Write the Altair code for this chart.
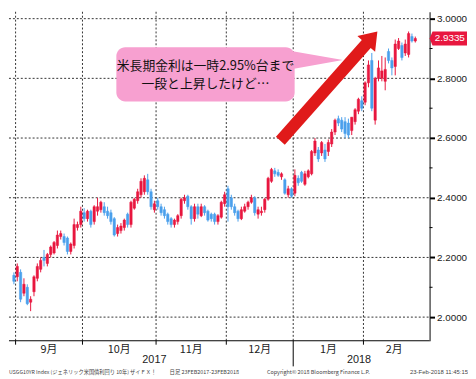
import altair as alt
import pandas as pd

# ---------------- data ----------------
lead_days = 1                      # one day of August before September
month_labels = ["9月", "10月", "11月", "12月", "1月", "2月"]
month_counts = [20, 22, 21, 20, 21, 16]
year_labels = ["2017", "2018"]
year_month_counts = [4, 2]

opens = [2.14,
    2.135, 2.15, 2.08, 2.10, 2.05, 2.085, 2.13, 2.16, 2.20, 2.18, 2.21, 2.215, 2.24, 2.27, 2.27, 2.265, 2.22, 2.24, 2.30, 2.31,
    2.35, 2.33, 2.355, 2.32, 2.355, 2.36, 2.37, 2.355, 2.35, 2.33, 2.28, 2.29, 2.30, 2.345, 2.31, 2.365, 2.39, 2.41, 2.42, 2.46, 2.42, 2.36,
    2.39, 2.37, 2.36, 2.345, 2.33, 2.31, 2.32, 2.34, 2.39, 2.405, 2.37, 2.33, 2.37, 2.34, 2.37, 2.355, 2.345, 2.345, 2.32, 2.335, 2.38,
    2.43, 2.40, 2.37, 2.355, 2.33, 2.355, 2.37, 2.385, 2.40, 2.345, 2.35, 2.36, 2.395, 2.455, 2.49, 2.485, 2.47, 2.46, 2.41, 2.43,
    2.415, 2.465, 2.485, 2.445, 2.47, 2.48, 2.55, 2.56, 2.55, 2.56, 2.555, 2.58, 2.62, 2.665, 2.66, 2.655, 2.65, 2.625, 2.655, 2.69, 2.725,
    2.72, 2.785, 2.86, 2.66, 2.80, 2.80, 2.79, 2.89, 2.86, 2.84, 2.90, 2.91, 2.885, 2.88, 2.94, 2.925]
highs = [2.15,
    2.18, 2.16, 2.13, 2.11, 2.07, 2.14, 2.18, 2.20, 2.225, 2.215, 2.24, 2.255, 2.29, 2.29, 2.28, 2.27, 2.25, 2.33, 2.32, 2.37,
    2.365, 2.36, 2.36, 2.375, 2.40, 2.39, 2.385, 2.37, 2.36, 2.335, 2.31, 2.315, 2.33, 2.35, 2.39, 2.40, 2.43, 2.465, 2.475, 2.48, 2.43, 2.39,
    2.40, 2.38, 2.37, 2.35, 2.335, 2.33, 2.345, 2.40, 2.41, 2.41, 2.375, 2.38, 2.38, 2.38, 2.375, 2.36, 2.35, 2.35, 2.345, 2.39, 2.42,
    2.44, 2.41, 2.38, 2.36, 2.37, 2.38, 2.39, 2.41, 2.405, 2.37, 2.37, 2.40, 2.47, 2.50, 2.50, 2.495, 2.485, 2.465, 2.44, 2.435,
    2.495, 2.475, 2.49, 2.49, 2.495, 2.56, 2.60, 2.57, 2.59, 2.58, 2.595, 2.63, 2.665, 2.675, 2.67, 2.67, 2.665, 2.67, 2.70, 2.735, 2.74,
    2.79, 2.86, 2.885, 2.805, 2.86, 2.875, 2.87, 2.90, 2.87, 2.93, 2.935, 2.92, 2.93, 2.957, 2.95, 2.94]
lows = [2.11,
    2.12, 2.05, 2.07, 2.04, 2.02, 2.07, 2.12, 2.15, 2.17, 2.17, 2.20, 2.21, 2.23, 2.26, 2.24, 2.21, 2.21, 2.23, 2.29, 2.30,
    2.32, 2.32, 2.30, 2.31, 2.34, 2.35, 2.34, 2.33, 2.31, 2.27, 2.27, 2.28, 2.29, 2.30, 2.30, 2.36, 2.38, 2.40, 2.41, 2.41, 2.36, 2.35,
    2.36, 2.34, 2.33, 2.31, 2.30, 2.30, 2.31, 2.33, 2.38, 2.36, 2.31, 2.32, 2.33, 2.335, 2.34, 2.32, 2.32, 2.31, 2.31, 2.33, 2.37,
    2.32, 2.36, 2.34, 2.32, 2.325, 2.35, 2.36, 2.38, 2.34, 2.33, 2.34, 2.35, 2.39, 2.45, 2.47, 2.47, 2.46, 2.41, 2.40, 2.40,
    2.405, 2.44, 2.45, 2.44, 2.465, 2.475, 2.54, 2.52, 2.54, 2.52, 2.54, 2.57, 2.61, 2.64, 2.62, 2.60, 2.60, 2.61, 2.645, 2.68, 2.69,
    2.71, 2.77, 2.69, 2.645, 2.79, 2.79, 2.76, 2.85, 2.81, 2.81, 2.895, 2.86, 2.875, 2.87, 2.92, 2.92]
closes = [2.12,
    2.17, 2.06, 2.11, 2.045, 2.06, 2.135, 2.17, 2.19, 2.19, 2.21, 2.235, 2.25, 2.275, 2.28, 2.25, 2.22, 2.245, 2.31, 2.31, 2.355,
    2.33, 2.355, 2.31, 2.37, 2.37, 2.385, 2.35, 2.34, 2.32, 2.275, 2.30, 2.305, 2.325, 2.31, 2.385, 2.395, 2.42, 2.455, 2.465, 2.42, 2.37, 2.38,
    2.37, 2.35, 2.34, 2.32, 2.31, 2.325, 2.34, 2.395, 2.40, 2.37, 2.33, 2.37, 2.345, 2.37, 2.35, 2.325, 2.33, 2.32, 2.34, 2.385, 2.41,
    2.37, 2.37, 2.35, 2.33, 2.36, 2.37, 2.385, 2.40, 2.35, 2.36, 2.355, 2.395, 2.465, 2.495, 2.48, 2.475, 2.48, 2.415, 2.43, 2.405,
    2.475, 2.45, 2.455, 2.48, 2.49, 2.555, 2.59, 2.53, 2.585, 2.53, 2.585, 2.62, 2.66, 2.65, 2.63, 2.615, 2.61, 2.67, 2.695, 2.73, 2.70,
    2.785, 2.845, 2.70, 2.80, 2.835, 2.825, 2.83, 2.86, 2.835, 2.915, 2.925, 2.87, 2.915, 2.95, 2.925, 2.9335]

y_major = [2.0, 2.2, 2.4, 2.6, 2.8, 3.0]
y_minor = [2.1, 2.3, 2.5, 2.7, 2.9]
last_value = 2.9335
note_lines = ["米長期金利は一時2.95%台まで", "一段と上昇したけど…"]
footer_left = "USGG10YR Index (ジェネリック米国債利回り 10年) ザイＦＸ！"
footer_range = "日足 23FEB2017-23FEB2018"
footer_copy = "Copyright© 2018 Bloomberg Finance L.P."
footer_time = "23-Feb-2018 11:45:15"

n = len(closes)
assert len(opens) == n and len(highs) == n and len(lows) == n
assert n == lead_days + sum(month_counts)

# ---------------- layout ----------------
W, H = 427, 334
X_END = 122.8
RED = "#e8173f"
BLUE = "#4aa0ec"
PINK = "#f7a0d0"
ARROW = "#e01a1a"

x_scale = alt.Scale(domain=[0, X_END], nice=False, zero=False)
y_scale = alt.Scale(domain=[1.92079, 3.0231], nice=False, zero=False)
y_axis = alt.Axis(orient="right", values=y_major, format=".4f", title=None,
                  grid=False, domainColor="black", domainWidth=1, tickColor="black",
                  tickSize=5, tickWidth=2, labelFont="Liberation Sans",
                  labelFontSize=10, labelColor="#222", labelPadding=2)

df = pd.DataFrame({"idx": list(range(n)), "open": opens, "high": highs,
                   "low": lows, "close": closes})
df["dir"] = ["up" if c >= o else "down" for o, c in zip(opens, closes)]

bounds = [lead_days - 0.5]
for c in month_counts:
    bounds.append(bounds[-1] + c)
month_edges = bounds[:-1]
month_right = bounds[1:-1] + [X_END]
mdf = pd.DataFrame({"label": month_labels,
                    "c": [(a + b) / 2 for a, b in zip(month_edges, month_right)]})
bdf = pd.DataFrame({"b": month_edges})
year_edge = month_edges[year_month_counts[0]]
ydf = pd.DataFrame({"label": year_labels,
                    "c": [(month_edges[0] + year_edge) / 2, (year_edge + X_END) / 2]})
short_df = pd.DataFrame({"b": [b for b in month_edges if b != year_edge]})
long_df = pd.DataFrame({"b": [year_edge]})

color = alt.Color("dir:N", scale=alt.Scale(domain=["up", "down"], range=[RED, BLUE]), legend=None)
X = lambda f: alt.X(f, scale=x_scale, axis=None)
Y = lambda f: alt.Y(f, scale=y_scale, axis=y_axis)

# dotted grid lines drawn as rules
vgrid = alt.Chart(bdf).mark_rule(color="#333333", strokeDash=[2, 2], strokeWidth=1).encode(
    x=X("b:Q"), y=alt.value(0), y2=alt.value(H))
hgrid = alt.Chart(pd.DataFrame({"g": y_major})).mark_rule(
    color="#333333", strokeDash=[2, 2], strokeWidth=1).encode(
    y=Y("g:Q"), x=alt.value(0), x2=alt.value(W))

wick = alt.Chart(df).mark_rule(strokeWidth=1, clip=True).encode(
    x=X("idx:Q"), y=Y("low:Q"), y2="high:Q", color=color)
body = alt.Chart(df).mark_bar(size=2.4, strokeWidth=0.5, clip=True).encode(
    x=X("idx:Q"), y=Y("open:Q"), y2="close:Q", color=color,
    stroke=alt.Stroke("dir:N", scale=alt.Scale(domain=["up", "down"], range=[RED, BLUE]), legend=None))

one = pd.DataFrame({"k": [0]})
xline = alt.Chart(one).mark_rule(color="black", strokeWidth=1).encode(
    x=alt.value(0), x2=alt.value(W), y=alt.value(H))
sticks = alt.Chart(short_df).mark_rule(color="black", strokeWidth=1).encode(
    x=X("b:Q"), y=alt.value(H), y2=alt.value(H + 4))
lticks = alt.Chart(long_df).mark_rule(color="black", strokeWidth=1).encode(
    x=X("b:Q"), y=alt.value(H), y2=alt.value(H + 26))
mlabels = alt.Chart(mdf).mark_text(font="Noto Sans CJK JP", fontSize=11, color="#222",
                                   baseline="middle").encode(
    x=X("c:Q"), y=alt.value(H + 9), text="label:N")
ylabels = alt.Chart(ydf).mark_text(font="Liberation Sans", fontSize=11, color="#222",
                                   baseline="middle").encode(
    x=X("c:Q"), y=alt.value(H + 20), text="label:N")

footer_texts = [footer_left, footer_range, footer_copy]
fx = [0, 163, 262]
fsize = [5.3, 5.5, 5.5]
footer = alt.layer(*[
    alt.Chart(pd.DataFrame({"t": [t]})).mark_text(font="Noto Sans CJK JP", fontSize=s, color="#444",
                                                  align="left", baseline="middle").encode(
        x=alt.value(x), y=alt.value(H + 32), text="t:N")
    for t, x, s in zip(footer_texts, fx, fsize)
])
footer_r = alt.Chart(pd.DataFrame({"t": [footer_time]})).mark_text(
    font="Liberation Sans", fontSize=6, color="#444", align="right", baseline="middle").encode(
    x=alt.value(466), y=alt.value(H + 32), text="t:N")

box = alt.Chart(one).mark_rect(color=PINK, cornerRadius=9).encode(
    x=alt.value(109), x2=alt.value(290), y=alt.value(36), y2=alt.value(91))
tail = alt.Chart(one).mark_point(shape="M288,40 L339,49 L288,58 Z", size=4, filled=True,
                                 color=PINK, opacity=1).encode(x=alt.value(0), y=alt.value(0))
note1 = alt.Chart(pd.DataFrame({"t": [note_lines[0]]})).mark_text(
    font="Noto Sans CJK JP", fontSize=13, color="#111", baseline="middle").encode(
    x=alt.value(199.5), y=alt.value(55), text="t:N")
note2 = alt.Chart(pd.DataFrame({"t": [note_lines[1]]})).mark_text(
    font="Noto Sans CJK JP", fontSize=13, color="#111", baseline="middle").encode(
    x=alt.value(199.5), y=alt.value(73), text="t:N")
arrow_path = ("M271,127 L358.2,28.7 L353.7,24.7 L374,20 L371.7,40.7 "
              "L367.2,36.7 L280,135 Z")
arrow = alt.Chart(one).mark_point(shape=arrow_path, size=4, filled=True, color=ARROW,
                                  opacity=1).encode(x=alt.value(0), y=alt.value(0))

minor = alt.Chart(pd.DataFrame({"m": y_minor})).mark_rule(color="black", strokeWidth=1).encode(
    y=Y("m:Q"), x=alt.value(W), x2=alt.value(W + 3))

pdf = pd.DataFrame({"v": [last_value], "label": [f"{last_value:.4f}"]})
pbox = alt.Chart(pdf).mark_point(shape="M-3,0 L0,-7 L35,-7 L35,7 L0,7 Z", size=4, filled=True,
                                 color=RED, opacity=1).encode(x=alt.value(W + 3), y=Y("v:Q"))
ptext = alt.Chart(pdf).mark_text(font="Liberation Sans", fontSize=10, color="white",
                                 baseline="middle").encode(
    x=alt.value(W + 20.5), y=Y("v:Q"), text="label:N")

chart = alt.layer(vgrid, hgrid, wick, body, xline, sticks, lticks, mlabels, ylabels, footer, footer_r,
                  box, tail, note1, note2, arrow, minor, pbox, ptext).properties(
    width=W, height=H, padding={"left": 0, "top": 0, "right": 0, "bottom": 0},
    background="white").configure_view(stroke=None)

chart.save("out.html", embed_options={"renderer": "svg", "actions": False})
